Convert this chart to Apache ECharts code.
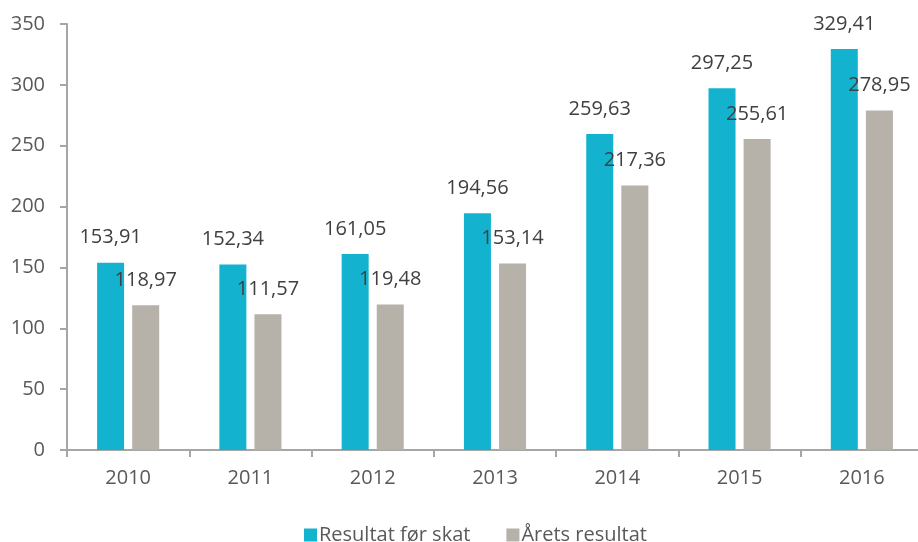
<!DOCTYPE html>
<html>
<head>
<meta charset="utf-8">
<script src="https://cdn.jsdelivr.net/npm/echarts@6/dist/echarts.min.js"></script>
<style>html,body{margin:0;padding:0;background:#fff;overflow:hidden;width:918px;height:542px}#c{width:923px;height:542px}</style>
</head>
<body>
<div id="c"></div>
<script>
const categories = ['2010','2011','2012','2013','2014','2015','2016'];
const seriesNames = ['Resultat før skat','Årets resultat'];
const resultatForSkat = [153.91,152.34,161.05,194.56,259.63,297.25,329.41];
const aretsResultat = [118.97,111.57,119.48,153.14,217.36,255.61,278.95];
const yTicks = [0,50,100,150,200,250,300,350];

const FONT = '"Open Sans", "Liberation Sans", sans-serif';
const fmt = p => p.value.toFixed(2).replace('.', ',');
const axisColor = '#A6A6A6';
const textColor = '#595959';

const chart = echarts.init(document.getElementById('c'), null, {renderer:'canvas'});
chart.setOption({
  animation: false,
  backgroundColor: '#ffffff',
  textStyle: {fontFamily: FONT},
  grid: {left: 67, right: 0, top: 24, bottom: 92, containLabel: false},
  legend: {
    left: 299, top: 520,
    itemWidth: 13, itemHeight: 13, itemGap: 36,
    icon: 'rect',
    textStyle: {fontFamily: FONT, fontSize: 20, color: textColor, padding: [0,0,0,-3]},
    data: seriesNames
  },
  xAxis: {
    type: 'category',
    data: categories,
    axisLine: {lineStyle: {color: axisColor, width: 2}},
    axisTick: {show: true, length: 7, lineStyle: {color: axisColor, width: 2}},
    axisLabel: {color: textColor, fontSize: 20, fontFamily: FONT, margin: 18}
  },
  yAxis: {
    type: 'value',
    min: yTicks[0], max: yTicks[yTicks.length-1], interval: 50,
    splitLine: {show: false},
    axisLine: {show: true, lineStyle: {color: axisColor, width: 2}},
    axisTick: {show: true, length: 7, lineStyle: {color: axisColor, width: 2}},
    axisLabel: {color: textColor, fontSize: 20, fontFamily: FONT, margin: 22}
  },
  series: [
    {
      name: seriesNames[0], type: 'bar', data: resultatForSkat,
      barWidth: 27, barGap: '30%',
      itemStyle: {color: '#13B3CF'},
      label: {show: true, position: 'top', distance: 15, formatter: fmt,
              color: '#404040', fontSize: 20, fontFamily: FONT}
    },
    {
      name: seriesNames[1], type: 'bar', data: aretsResultat,
      barWidth: 27, barGap: '30%',
      itemStyle: {color: '#B6B1A9'},
      label: {show: true, position: 'top', distance: 15, formatter: fmt,
              color: '#404040', fontSize: 20, fontFamily: FONT}
    }
  ]
});
</script>
</body>
</html>
